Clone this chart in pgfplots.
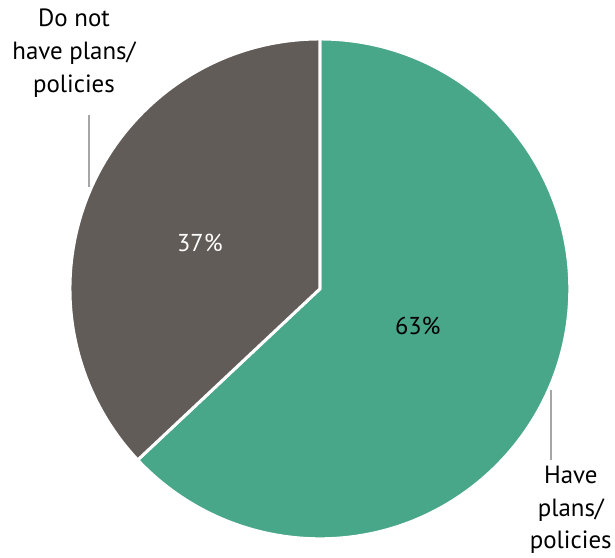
\documentclass[border=0pt]{standalone}
\usepackage{pgfplots}
\pgfplotsset{compat=1.18}
\usepackage{fontspec}
\setmainfont{PT Sans}
\definecolor{pgreen}{HTML}{48A689}
\definecolor{pgray}{HTML}{625C59}
\definecolor{pline}{HTML}{A6A6A6}
% data (percent)
\def\valHave{63}
\def\valNot{37}
\begin{document}
\begin{tikzpicture}
\pgfmathsetmacro{\angEnd}{90-3.6*\valHave}
\begin{axis}[
  scale only axis, width=615bp, height=557bp,
  xmin=0, xmax=615, ymin=0, ymax=557,
  hide axis, clip=false,
]
\path (axis cs:0,0) rectangle (axis cs:615,557);
% slices
\filldraw[fill=pgreen, draw=white, line width=3bp, line join=miter]
  (axis cs:320,268) -- (axis cs:320,518) arc[start angle=90, end angle=\angEnd, radius=250bp] -- cycle;
\filldraw[fill=pgray, draw=white, line width=3bp, line join=miter]
  (axis cs:320,268) -- (axis cs:320,518) arc[start angle=90, end angle=\angEnd+360, radius=250bp] -- cycle;
% percent labels
\node[font=\fontsize{24.5}{28}\selectfont, text=white] at (axis cs:200,314) {\valNot\%};
\node[font=\fontsize{24.5}{28}\selectfont, text=black] at (axis cs:418,231) {\valHave\%};
% leader lines
\draw[pline, line width=2bp] (axis cs:89,442) -- (axis cs:89,370);
\draw[pline, line width=2bp] (axis cs:551,167) -- (axis cs:551,97);
% category labels
\node[align=center, font=\fontsize{25}{33}\selectfont, text=black] at (axis cs:74,504) {Do not\\have plans/\\policies};
\node[align=center, font=\fontsize{25}{33}\selectfont, text=black] at (axis cs:571,47) {Have\\plans/\\policies};
\end{axis}
\end{tikzpicture}
\end{document}
